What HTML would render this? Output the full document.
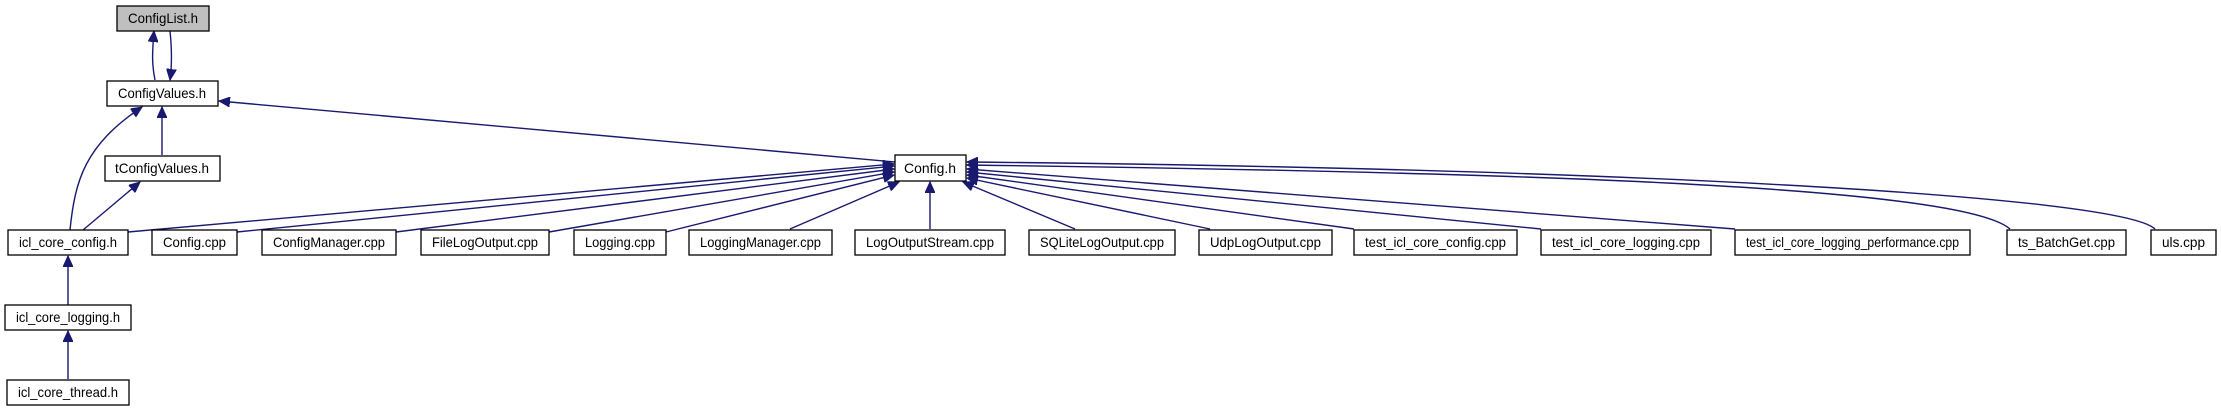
<!DOCTYPE html>
<html><head><meta charset="utf-8"><style>
html,body{margin:0;padding:0;background:#fff;}
svg{display:block;}
text{font-family:"Liberation Sans",sans-serif;font-size:14px;fill:#000;text-anchor:middle;}
.b{fill:#fff;stroke:#000;stroke-width:1.3;}
.e{fill:none;stroke:#191970;stroke-width:1.4;marker-end:url(#a);}
</style></head><body>
<svg width="2221" height="411" viewBox="0 0 2221 411" xmlns="http://www.w3.org/2000/svg">
<defs><marker id="a" markerWidth="12" markerHeight="10" refX="11" refY="5" orient="auto" markerUnits="userSpaceOnUse"><path d="M0,0 L11,5 L0,10 z" fill="#191970" stroke="#191970"/></marker></defs>
<path class="e" d="M155,80 C152,65 152,55 154,31"/>
<path class="e" d="M170,31 C172,50 172,65 170,80"/>
<path class="e" d="M162,155 L162,107"/>
<path class="e" d="M70,230 C75,180 85,145 142,107"/>
<path class="e" d="M83,230 L140,182"/>
<path class="e" d="M895,162 L219,101"/>
<path class="e" d="M68,305 L68,256"/>
<path class="e" d="M68,379 L68,331"/>
<path class="e" d="M128,232 L894,164"/>
<path class="e" d="M237,232 L894,166"/>
<path class="e" d="M396,232 L894,169"/>
<path class="e" d="M549,232 L894,172"/>
<path class="e" d="M666,232 L894,175"/>
<path class="e" d="M790,229 L899,182"/>
<path class="e" d="M930,229 L930,182"/>
<path class="e" d="M1075,229 L963,182"/>
<path class="e" d="M1210,229 L967,178"/>
<path class="e" d="M1354,229 L967,175"/>
<path class="e" d="M1541,229 L967,172"/>
<path class="e" d="M1735,229 L967,169"/>
<path class="e" d="M2010,229 C1960,185 1500,172 967,165"/>
<path class="e" d="M2155,229 C2120,195 1600,168 967,162"/>
<rect x="117" y="6" width="92" height="25" fill="#bfbfbf" stroke="#000" stroke-width="1.3"/><text x="163" y="23" textLength="70" lengthAdjust="spacingAndGlyphs">ConfigList.h</text>
<rect class="b" x="107" y="81" width="111" height="25"/><text x="162" y="98" textLength="88" lengthAdjust="spacingAndGlyphs">ConfigValues.h</text>
<rect class="b" x="105" y="156" width="115" height="25"/><text x="162" y="173" textLength="94" lengthAdjust="spacingAndGlyphs">tConfigValues.h</text>
<rect class="b" x="895" y="155" width="71" height="26"/><text x="930" y="173" textLength="52" lengthAdjust="spacingAndGlyphs">Config.h</text>
<rect class="b" x="8" y="230" width="120" height="25"/><text x="68" y="247" textLength="98" lengthAdjust="spacingAndGlyphs">icl_core_config.h</text>
<rect class="b" x="152" y="230" width="85" height="25"/><text x="194.5" y="247" textLength="63" lengthAdjust="spacingAndGlyphs">Config.cpp</text>
<rect class="b" x="262" y="230" width="134" height="25"/><text x="329" y="247" textLength="112" lengthAdjust="spacingAndGlyphs">ConfigManager.cpp</text>
<rect class="b" x="421" y="230" width="128" height="25"/><text x="485" y="247" textLength="106" lengthAdjust="spacingAndGlyphs">FileLogOutput.cpp</text>
<rect class="b" x="574" y="230" width="92" height="25"/><text x="620" y="247" textLength="70" lengthAdjust="spacingAndGlyphs">Logging.cpp</text>
<rect class="b" x="689" y="230" width="143" height="25"/><text x="760.5" y="247" textLength="121" lengthAdjust="spacingAndGlyphs">LoggingManager.cpp</text>
<rect class="b" x="855" y="230" width="150" height="25"/><text x="930" y="247" textLength="128" lengthAdjust="spacingAndGlyphs">LogOutputStream.cpp</text>
<rect class="b" x="1029" y="230" width="146" height="25"/><text x="1102" y="247" textLength="124" lengthAdjust="spacingAndGlyphs">SQLiteLogOutput.cpp</text>
<rect class="b" x="1199" y="230" width="133" height="25"/><text x="1265.5" y="247" textLength="111" lengthAdjust="spacingAndGlyphs">UdpLogOutput.cpp</text>
<rect class="b" x="1354" y="230" width="163" height="25"/><text x="1435.5" y="247" textLength="141" lengthAdjust="spacingAndGlyphs">test_icl_core_config.cpp</text>
<rect class="b" x="1541" y="230" width="170" height="25"/><text x="1626" y="247" textLength="148" lengthAdjust="spacingAndGlyphs">test_icl_core_logging.cpp</text>
<rect class="b" x="1735" y="230" width="235" height="25"/><text x="1852.5" y="247" textLength="213" lengthAdjust="spacingAndGlyphs">test_icl_core_logging_performance.cpp</text>
<rect class="b" x="2007" y="230" width="119" height="25"/><text x="2066.5" y="247" textLength="97" lengthAdjust="spacingAndGlyphs">ts_BatchGet.cpp</text>
<rect class="b" x="2151" y="230" width="65" height="25"/><text x="2183.5" y="247" textLength="43" lengthAdjust="spacingAndGlyphs">uls.cpp</text>
<rect class="b" x="5" y="305" width="126" height="25"/><text x="68" y="322" textLength="104" lengthAdjust="spacingAndGlyphs">icl_core_logging.h</text>
<rect class="b" x="7" y="380" width="122" height="25"/><text x="68" y="397" textLength="100" lengthAdjust="spacingAndGlyphs">icl_core_thread.h</text>
</svg>
</body></html>
